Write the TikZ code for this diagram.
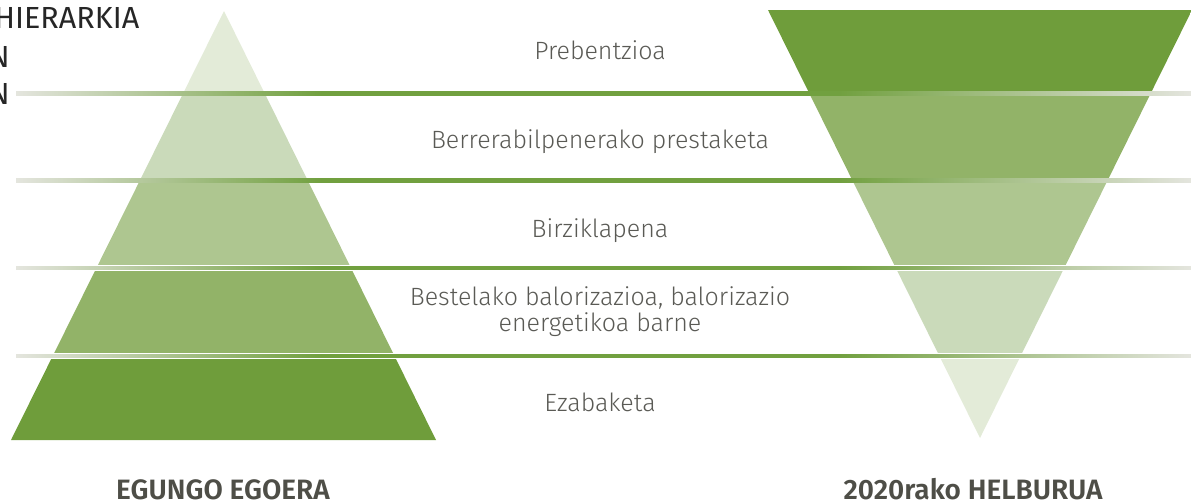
\documentclass[tikz,border=0pt]{standalone}
\usepackage{fontspec}
\setmainfont{Fira Sans Light}
\newfontfamily\boldf{Fira Sans SemiBold}
\newfontfamily\regf{Fira Sans}
\definecolor{cA}{HTML}{E3EBD8}
\definecolor{cB}{HTML}{CADABA}
\definecolor{cC}{HTML}{AEC690}
\definecolor{cD}{HTML}{92B368}
\definecolor{cE}{HTML}{6F9D3B}
\definecolor{lgrey}{HTML}{E4E5DE}
\definecolor{lgreen}{HTML}{71A03F}
\definecolor{txt}{HTML}{5A5A55}
\definecolor{btxt}{HTML}{4E4E47}
\pgfdeclarehorizontalshading{lineshade}{100bp}{color(0bp)=(lgrey); color(25bp)=(lgrey); color(38bp)=(lgreen); color(60bp)=(lgreen); color(75bp)=(lgrey); color(100bp)=(lgrey)}
\tikzset{
  lbl/.style={anchor=base, text=txt, font=\fontsize{25}{29}\selectfont, inner sep=0pt},
  ttl/.style={anchor=base, text=btxt, font=\boldf\fontsize{28}{32}\selectfont, inner sep=0pt},
  head/.style={anchor=base east, text=black!85, font=\regf\fontsize{30.5}{34}\selectfont, inner sep=0pt}
}
\begin{document}
\begin{tikzpicture}[x=1pt,y=-1pt]
\useasboundingbox (0,0) rectangle (1191,501);
\clip (0,0) rectangle (1191,501);
% left pyramid
\begin{scope}
\clip (11,440) -- (224,11) -- (436,440) -- cycle;
\fill[cA] (0,0) rectangle (600,94);
\fill[cB] (0,94) rectangle (600,181);
\fill[cC] (0,181) rectangle (600,268);
\fill[cD] (0,268) rectangle (600,356);
\fill[cE] (0,356) rectangle (600,445);
\end{scope}
% right inverted pyramid
\begin{scope}
\clip (768,10) -- (1192,10) -- (980,438) -- cycle;
\fill[cE] (700,0) rectangle (1195,94);
\fill[cD] (700,94) rectangle (1195,181);
\fill[cC] (700,181) rectangle (1195,268);
\fill[cB] (700,268) rectangle (1195,356);
\fill[cA] (700,356) rectangle (1195,445);
\end{scope}
% separator lines
\foreach \y in {93.5,180.5,268,356}{
  \fill[white] (16,\y-2.7) rectangle (1191,\y+2.7);
  \shade[shading=lineshade] (16,\y-1.7) rectangle (1191,\y+1.7);
}
% heading (cut off at the left edge)
\node[head] (h1) at (139.5,28.5) {HIERARKIA};
\node[head] (h2) at (10,67) {N};
\node[head] (h3) at (10,104) {N};
% labels
\node[lbl] (l1) at (600,59) {Prebentzioa};
\node[lbl] (l2) at (600,148) {Berrerabilpenerako prestaketa};
\node[lbl] (l3) at (600,237) {Birziklapena};
\node[lbl] (l4a) at (600,305) {Bestelako balorizazioa, balorizazio};
\node[lbl] (l4b) at (600,331.5) {energetikoa barne};
\node[lbl] (l5) at (600,411) {Ezabaketa};
% titles
\node[ttl] (t1) at (223,499) {EGUNGO EGOERA};
\node[ttl] (t2) at (973,499) {2020rako HELBURUA};
\end{tikzpicture}
\end{document}
